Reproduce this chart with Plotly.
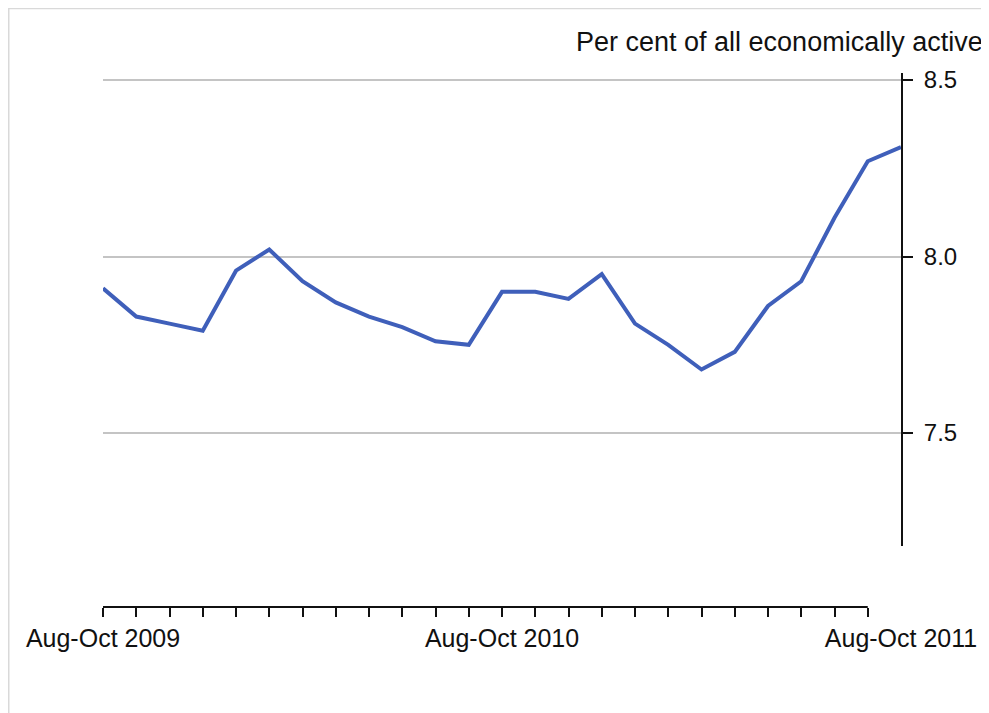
import plotly.graph_objects as go

# Data
periods = list(range(25))  # Aug-Oct 2009 ... Aug-Oct 2011 (rolling quarters)
rate = [7.91, 7.83, 7.81, 7.79, 7.96, 8.02, 7.93, 7.87, 7.83, 7.80, 7.76, 7.75,
        7.90, 7.90, 7.88, 7.95, 7.81, 7.75, 7.68, 7.73, 7.86, 7.93, 8.11, 8.27, 8.31]
label_pos = [0, 12, 24]
label_text = ["Aug-Oct 2009", "Aug-Oct 2010", "Aug-Oct 2011"]
y_ticks = [7.5, 8.0, 8.5]
y_tick_text = ["7.5", "8.0", "8.5"]
title_text = "Per cent of all economically active"

OFF = 8  # page body margin in the browser
W, H = 989 - OFF, 713 - OFF
ml, mr, mt, mb = 103 - OFF, 86, 73 - OFF, 106
pw, ph = W - ml - mr, H - mt - mb

def px_x(p):
    return (p - OFF - ml) / pw

def px_y(p):
    return (H - mb - (p - OFF)) / ph

FONT = "Liberation Sans, Arial, sans-serif"

fig = go.Figure()
fig.add_trace(go.Scatter(
    x=periods, y=rate, mode="lines",
    line=dict(color="#3f5fba", width=4),
    xaxis="x", yaxis="y", cliponaxis=False, showlegend=False,
    hoverinfo="x+y",
))

fig.update_layout(
    width=W, height=H,
    margin=dict(l=ml, r=mr, t=mt, b=mb, pad=0),
    paper_bgcolor="white", plot_bgcolor="white",
    font=dict(family=FONT, size=24, color="#111111"),
    xaxis=dict(
        range=[0, 24], domain=[0, 1], anchor="free", position=0,
        showline=False, showgrid=False, zeroline=False,
        ticks="outside", ticklen=9, tickwidth=2, tickcolor="#111111",
        tickvals=periods[:-1], showticklabels=False,
    ),
    xaxis2=dict(
        range=[0, 24], domain=[0, 1], anchor="free", position=0, overlaying="x",
        showline=False, showgrid=False, zeroline=False,
        ticks="outside", ticklen=9, tickcolor="rgba(0,0,0,0)",
        tickvals=label_pos, ticktext=label_text,
        tickfont=dict(family=FONT, size=25, color="#111111"),
    ),
    yaxis=dict(
        domain=[px_y(546), 1], range=[7.18, 8.52], side="right", anchor="x",
        showline=True, linecolor="#111111", linewidth=2,
        ticks="outside", ticklen=10, tickwidth=2, tickcolor="#111111",
        tickvals=y_ticks, ticktext=y_tick_text,
        showgrid=True, gridcolor="#c4c4c4", gridwidth=2, zeroline=False,
        tickfont=dict(family=FONT, size=24, color="#111111"),
        ticklabelstandoff=6,
    ),
    shapes=[
        dict(type="line", xref="x", yref="paper", x0=0, x1=23, y0=0, y1=0,
             line=dict(color="#111111", width=2)),
        dict(type="line", xref="paper", yref="paper",
             x0=px_x(8), x1=px_x(989), y0=px_y(8.5), y1=px_y(8.5),
             line=dict(color="#d9d9d9", width=1.5)),
        dict(type="line", xref="paper", yref="paper",
             x0=px_x(8.5), x1=px_x(8.5), y0=px_y(8), y1=px_y(713),
             line=dict(color="#d9d9d9", width=1.5)),
    ],
    annotations=[
        dict(text=title_text, xref="paper", yref="paper",
             x=px_x(987), y=px_y(42), xanchor="right", yanchor="middle",
             showarrow=False, font=dict(family=FONT, size=27, color="#111111")),
    ],
)

# dummy trace to activate xaxis2
fig.add_trace(go.Scatter(x=[0, 24], y=[None, None], xaxis="x2", yaxis="y",
                         showlegend=False, hoverinfo="skip"))

fig.write_html("out.html")
